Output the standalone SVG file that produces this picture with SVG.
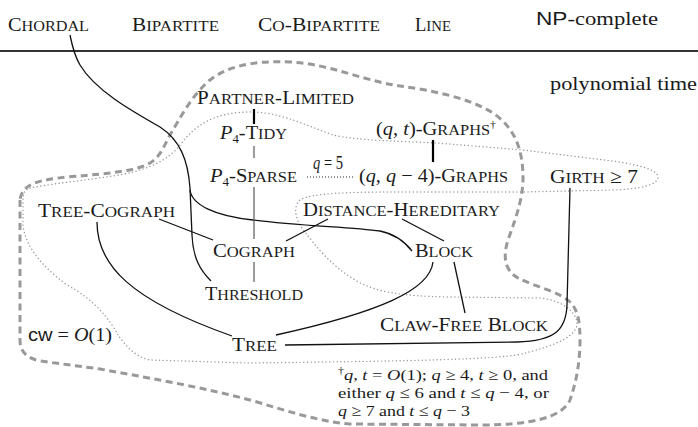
<svg xmlns="http://www.w3.org/2000/svg" width="698" height="427" viewBox="0 0 698 427">
<style>
.t{font-family:"Liberation Serif",serif;font-size:19px;fill:#1a1a1a}
.s{font-size:15.2px}
.i{font-style:italic}
.sub{font-size:12px}
.sans{font-family:"Liberation Sans",sans-serif}
.fn{font-family:"Liberation Serif",serif;font-size:15.5px;fill:#1a1a1a}
.e{fill:none;stroke:#111;stroke-width:1.3}
.g{fill:none;stroke:#666;stroke-width:1.3}
.b{fill:none;stroke:#000;stroke-width:2.2}
.dash{fill:none;stroke:#999;stroke-width:3;stroke-dasharray:7 4.5}
.dot{fill:none;stroke:#999;stroke-width:1.4;stroke-dasharray:0.1 3.6;stroke-linecap:round}
</style>
<rect width="698" height="427" fill="#fff"/>
<g id="regions">
<path class="dash" d="M20,200 L20,340 C20,352 27,358 40,361 L100,369 C160,380 205,388 250,400 C285,410 315,421 350,424 L480,425 C530,425 562,418 570,400 C577,380 580,360 580,340 C580,322 578,312 572,304 C562,292 535,287 518,278 C504,270 503,256 508,240 C515,220 523,200 523,178 C523,150 515,128 493,113 C470,98 430,90 400,86 C360,80 330,64 290,62 C250,60 225,68 210,80 C192,95 180,118 170,135 C163,148 160,157 150,163 C138,170 118,173 67,177 C40,180 22,183 20,200 Z"/>
<path class="dot" d="M30,188 C60,182 110,178 133,172 C160,165 172,155 180,145 C195,125 215,112 250,112 C280,112 305,125 333,135 C360,141 400,141 437,143 L523,150 L613,161 C640,165 658,170 658,177 C658,185 640,189 613,190 L523,192 L397,192 C350,192 310,193 300,200 C292,207 296,222 305,232 C315,245 330,265 355,280 C375,292 400,296 450,297 L540,298 C560,300 575,310 577,322 C578,335 560,345 517,355 C480,360 400,361 250,363 L150,360 C135,357 125,345 118,335 C110,320 95,300 67,285 C40,265 25,245 23,225 L23,200 C23,192 26,189 30,188 Z"/>
</g>
<line x1="0" y1="51" x2="698" y2="51" stroke="#333" stroke-width="2.2"/>
<g id="connectors">
<path class="e" d="M70,35 C72,45 74,55 80,65 C95,90 130,110 160,127 C180,140 188,160 190,188 L192,235 C193,258 200,270 211,281"/>
<path class="e" d="M190,190 C192,205 215,216 253,220 C300,226 350,227 380,231 C395,234 405,242 412,251"/>
<line class="b" x1="254" y1="109" x2="254" y2="124"/>
<line class="g" x1="254" y1="146" x2="254" y2="158"/>
<line class="g" x1="254" y1="187" x2="254" y2="239"/>
<line class="g" x1="254" y1="262" x2="254" y2="282"/>
<line class="b" x1="433" y1="140" x2="433" y2="162"/>
<line x1="307" y1="177" x2="355" y2="177" stroke="#222" stroke-width="1.2" stroke-dasharray="1 2"/>
<line class="e" x1="159" y1="219" x2="213" y2="240"/>
<line class="e" x1="328" y1="219" x2="286" y2="241"/>
<line class="e" x1="402" y1="219" x2="444" y2="241"/>
<line class="e" x1="454" y1="262" x2="465" y2="313"/>
<path class="e" d="M97,222 C97,265 130,300 232,336"/>
<path class="e" d="M433,262 C430,290 380,312 276,335"/>
<path class="e" d="M570,188 L567,305 C566,330 555,341 517,342 L285,345"/>
</g>
<g id="chordal"><text class="t" x="8" y="31" textLength="81" lengthAdjust="spacingAndGlyphs">C<tspan class="s">HORDAL</tspan></text></g>
<g id="bipartite"><text class="t" x="132" y="31" textLength="87" lengthAdjust="spacingAndGlyphs">B<tspan class="s">IPARTITE</tspan></text></g>
<g id="co-bipartite"><text class="t" x="258" y="31" textLength="122" lengthAdjust="spacingAndGlyphs">C<tspan class="s">O</tspan>-B<tspan class="s">IPARTITE</tspan></text></g>
<g id="line"><text class="t" x="415" y="31" textLength="36" lengthAdjust="spacingAndGlyphs">L<tspan class="s">INE</tspan></text></g>
<g id="np-complete"><text class="t" x="536" y="25" font-size="19.5" textLength="122" lengthAdjust="spacingAndGlyphs"><tspan class="sans">NP</tspan>-complete</text></g>
<g id="polynomial-time"><text class="t" x="550" y="90" font-size="20" textLength="147" lengthAdjust="spacingAndGlyphs">polynomial time</text></g>
<g id="partner-limited"><text class="t" x="197" y="104" textLength="157" lengthAdjust="spacingAndGlyphs">P<tspan class="s">ARTNER</tspan>-L<tspan class="s">IMITED</tspan></text></g>
<g id="p4-tidy"><text class="t" x="220" y="139" textLength="67" lengthAdjust="spacingAndGlyphs"><tspan class="i">P</tspan><tspan class="sub" dy="4">4</tspan><tspan dy="-4">-T</tspan><tspan class="s">IDY</tspan></text></g>
<g id="p4-sparse"><text class="t" x="210" y="182" textLength="87" lengthAdjust="spacingAndGlyphs"><tspan class="i">P</tspan><tspan class="sub" dy="4">4</tspan><tspan dy="-4">-S</tspan><tspan class="s">PARSE</tspan></text></g>
<g id="q5"><text class="t" x="313" y="169" font-size="11" textLength="30" lengthAdjust="spacingAndGlyphs"><tspan class="i">q</tspan> = 5</text></g>
<g id="qt-graphs"><text class="t" x="376" y="135" textLength="120" lengthAdjust="spacingAndGlyphs">(<tspan class="i">q</tspan>, <tspan class="i">t</tspan>)-G<tspan class="s">RAPHS</tspan><tspan font-size="11" dy="-7">†</tspan></text></g>
<g id="qq4-graphs"><text class="t" x="359" y="182" textLength="149" lengthAdjust="spacingAndGlyphs">(<tspan class="i">q</tspan>, <tspan class="i">q</tspan> − 4)-G<tspan class="s">RAPHS</tspan></text></g>
<g id="girth"><text class="t" x="550" y="183" textLength="88" lengthAdjust="spacingAndGlyphs">G<tspan class="s">IRTH</tspan> ≥ 7</text></g>
<g id="tree-cograph"><text class="t" x="38" y="217" textLength="137" lengthAdjust="spacingAndGlyphs">T<tspan class="s">REE</tspan>-C<tspan class="s">OGRAPH</tspan></text></g>
<g id="distance-hereditary"><text class="t" x="303" y="216" textLength="197" lengthAdjust="spacingAndGlyphs">D<tspan class="s">ISTANCE</tspan>-H<tspan class="s">EREDITARY</tspan></text></g>
<g id="cograph"><text class="t" x="213" y="257" textLength="82" lengthAdjust="spacingAndGlyphs">C<tspan class="s">OGRAPH</tspan></text></g>
<g id="block"><text class="t" x="415" y="257" textLength="58" lengthAdjust="spacingAndGlyphs">B<tspan class="s">LOCK</tspan></text></g>
<g id="threshold"><text class="t" x="205" y="300" textLength="98" lengthAdjust="spacingAndGlyphs">T<tspan class="s">HRESHOLD</tspan></text></g>
<g id="claw-free-block"><text class="t" x="380" y="331" textLength="168" lengthAdjust="spacingAndGlyphs">C<tspan class="s">LAW</tspan>-F<tspan class="s">REE</tspan> B<tspan class="s">LOCK</tspan></text></g>
<g id="tree"><text class="t" x="232" y="351" textLength="45" lengthAdjust="spacingAndGlyphs">T<tspan class="s">REE</tspan></text></g>
<g id="cw"><text class="t" x="28" y="341" font-size="17.5" textLength="84" lengthAdjust="spacingAndGlyphs"><tspan class="sans">cw</tspan> = <tspan class="i">O</tspan>(1)</text></g>
<g id="footnote">
<text class="fn" x="338" y="380" textLength="210" lengthAdjust="spacingAndGlyphs"><tspan font-size="10" dy="-6">†</tspan><tspan dy="6" class="i">q</tspan>, <tspan class="i">t</tspan> = <tspan class="i">O</tspan>(1); <tspan class="i">q</tspan> ≥ 4, <tspan class="i">t</tspan> ≥ 0, and</text>
<text class="fn" x="338" y="398" textLength="211" lengthAdjust="spacingAndGlyphs">either <tspan class="i">q</tspan> ≤ 6 and <tspan class="i">t</tspan> ≤ <tspan class="i">q</tspan> − 4, or</text>
<text class="fn" x="338" y="416" textLength="132" lengthAdjust="spacingAndGlyphs"><tspan class="i">q</tspan> ≥ 7 and <tspan class="i">t</tspan> ≤ <tspan class="i">q</tspan> − 3</text>
</g>
</svg>
